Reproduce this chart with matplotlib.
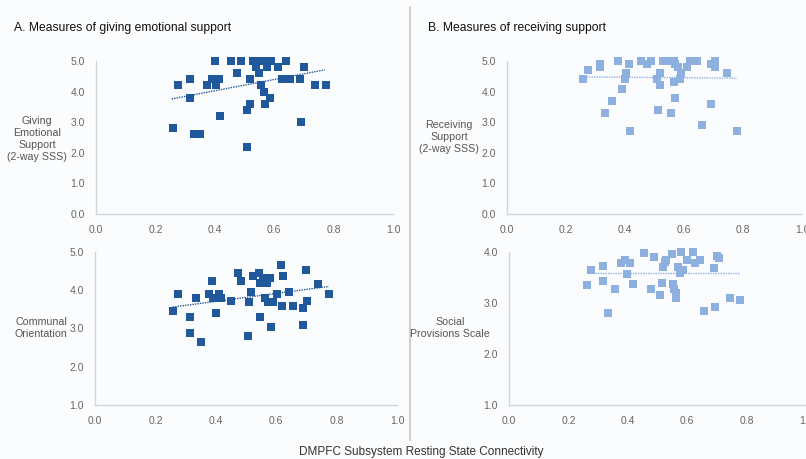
import matplotlib
matplotlib.use('Agg')
import matplotlib.pyplot as plt

plt.rcParams['font.family'] = ['Liberation Sans', 'DejaVu Sans']

# A. giving emotional support (2-way SSS)
give_x = [0.26, 0.277, 0.317, 0.317, 0.33, 0.35, 0.40, 0.375, 0.39, 0.415, 0.405, 0.418,
          0.455, 0.487, 0.476, 0.52, 0.52, 0.51, 0.51, 0.53, 0.55, 0.575, 0.59, 0.54,
          0.575, 0.614, 0.55, 0.555, 0.566, 0.585, 0.57, 0.64, 0.625, 0.653, 0.686,
          0.70, 0.69, 0.738, 0.773]
give_y = [2.8, 4.2, 4.4, 3.8, 2.6, 2.6, 5.0, 4.2, 4.4, 4.4, 4.2, 3.2,
          5.0, 5.0, 4.6, 4.4, 3.6, 3.4, 2.2, 5.0, 5.0, 5.0, 5.0, 4.8,
          4.8, 4.8, 4.6, 4.2, 4.0, 3.8, 3.6, 5.0, 4.4, 4.4, 4.4,
          4.8, 3.0, 4.2, 4.2]
give_trend_x = [0.255, 0.77]
give_trend_y = [3.76, 4.71]

# A. communal orientation
comm_x = [0.257, 0.276, 0.314, 0.314, 0.333, 0.35, 0.388, 0.377, 0.39, 0.41, 0.417, 0.40,
          0.45, 0.473, 0.484, 0.505, 0.518, 0.51, 0.522, 0.543, 0.547, 0.557, 0.568, 0.581,
          0.546, 0.564, 0.573, 0.588, 0.582, 0.602, 0.617, 0.624, 0.619, 0.643, 0.654,
          0.689, 0.689, 0.698, 0.703, 0.74, 0.775]
comm_y = [3.46, 3.9, 3.31, 2.87, 3.81, 2.66, 4.24, 3.9, 3.81, 3.9, 3.81, 3.4,
          3.73, 4.44, 4.25, 2.8, 3.96, 3.68, 4.38, 4.44, 3.31, 4.31, 4.18, 4.31,
          4.18, 3.81, 3.68, 3.68, 3.03, 3.9, 4.66, 4.38, 3.6, 3.96, 3.6,
          3.53, 3.09, 4.54, 3.73, 4.17, 3.9]
comm_trend_x = [0.257, 0.775]
comm_trend_y = [3.56, 4.10]

# B. receiving support (2-way SSS)
recv_x = [0.259, 0.276, 0.315, 0.315, 0.333, 0.356, 0.375, 0.389, 0.40, 0.405, 0.417, 0.415,
          0.453, 0.476, 0.487, 0.51, 0.52, 0.52, 0.512, 0.53, 0.55, 0.565, 0.555, 0.566,
          0.57, 0.57, 0.58, 0.585, 0.59, 0.61, 0.62, 0.645, 0.66, 0.69, 0.705, 0.705,
          0.69, 0.745, 0.778]
recv_y = [4.4, 4.7, 4.9, 4.8, 3.3, 3.7, 5.0, 4.1, 4.4, 4.6, 2.7, 4.9,
          5.0, 4.9, 5.0, 4.4, 4.6, 4.2, 3.4, 5.0, 5.0, 5.0, 3.3, 4.3,
          3.8, 4.9, 4.8, 4.4, 4.6, 4.8, 5.0, 5.0, 2.9, 4.9, 5.0, 4.8,
          3.6, 4.6, 2.7]
recv_trend_x = [0.27, 0.78]
recv_trend_y = [4.48, 4.44]

# B. social provisions scale
sps_x = [0.262, 0.275, 0.315, 0.318, 0.333, 0.358, 0.376, 0.39, 0.407, 0.398, 0.419,
         0.456, 0.477, 0.488, 0.51, 0.514, 0.52, 0.53, 0.525, 0.548, 0.553, 0.557, 0.563,
         0.563, 0.57, 0.576, 0.585, 0.578, 0.598, 0.618, 0.626, 0.643, 0.656, 0.69,
         0.694, 0.702, 0.708, 0.744, 0.778]
sps_y = [3.35, 3.65, 3.73, 3.44, 2.80, 3.27, 3.78, 3.84, 3.78, 3.56, 3.37,
         3.99, 3.27, 3.9, 3.15, 3.39, 3.71, 3.84, 3.8, 3.96, 3.37, 3.27, 3.2,
         3.1, 3.70, 3.58, 3.65, 4.0, 3.84, 4.0, 3.79, 3.84, 2.84, 3.69,
         2.93, 3.92, 3.88, 3.1, 3.06]
sps_trend_x = [0.29, 0.776]
sps_trend_y = [3.58, 3.58]

dark = '#20589b'
light = '#8eb0df'
axis_col = '#cfd6de'
tick_col = '#666666'

W, H = 806, 459
fig = plt.figure(figsize=(W / 100, H / 100), dpi=100)
fig.patch.set_facecolor('#fbfcfe')


def px_axes(left, right, top, bottom):
    return fig.add_axes([left / W, 1 - bottom / H, (right - left) / W, (bottom - top) / H])


def scatter_panel(ax, x, y, tx, ty, color, ylim, yticks, ylabel, label_x, label_y):
    ax.set_facecolor('none')
    ax.plot(x, y, 's', color=color, markersize=6.3, markeredgewidth=0, clip_on=False, zorder=3)
    # excel-style linear trendline
    ax.plot(tx, ty, linestyle=(0, (1, 0.8)), color=color, lw=1.0, zorder=4)
    ax.set_xlim(0, 1)
    ax.set_ylim(*ylim)
    ax.set_yticks(yticks)
    ax.set_yticklabels([f'{t:.1f}' for t in yticks])
    ax.set_xticks([0, 0.2, 0.4, 0.6, 0.8, 1.0])
    ax.set_xticklabels(['0.0', '0.2', '0.4', '0.6', '0.8', '1.0'])
    for s in ['top', 'right']:
        ax.spines[s].set_visible(False)
    for s in ['left', 'bottom']:
        ax.spines[s].set_color(axis_col)
        ax.spines[s].set_linewidth(1.0)
    ax.tick_params(length=0, labelsize=7.5, colors=tick_col, pad=8)
    fig.text(label_x / W, 1 - label_y / H, ylabel, ha='center', va='center',
             fontsize=7.7, color='#555555', linespacing=1.25)


ax1 = px_axes(96, 393, 61, 214)
scatter_panel(ax1, give_x, give_y, give_trend_x, give_trend_y, dark, (0, 5), [0, 1, 2, 3, 4, 5],
              'Giving\nEmotional\nSupport\n(2-way SSS)', 37, 139)

ax2 = px_axes(507, 802, 61, 214)
scatter_panel(ax2, recv_x, recv_y, recv_trend_x, recv_trend_y, light, (0, 5), [0, 1, 2, 3, 4, 5],
              'Receiving\nSupport\n(2-way SSS)', 449, 137)

ax3 = px_axes(95, 397, 252, 405)
scatter_panel(ax3, comm_x, comm_y, comm_trend_x, comm_trend_y, dark, (1, 5), [1, 2, 3, 4, 5],
              'Communal\nOrientation', 41, 328)

ax4 = px_axes(509, 806, 252, 405)
scatter_panel(ax4, sps_x, sps_y, sps_trend_x, sps_trend_y, light, (1, 4), [1, 2, 3, 4],
              'Social\nProvisions Scale', 450, 328)

fig.text(14 / W, 1 - 28 / H, 'A. Measures of giving emotional support',
         ha='left', va='center', fontsize=8.7, color='#111111')
fig.text(428 / W, 1 - 28 / H, 'B. Measures of receiving support',
         ha='left', va='center', fontsize=8.7, color='#111111')
fig.text(421 / W, 1 - 452 / H, 'DMPFC Subsystem Resting State Connectivity',
         ha='center', va='center', fontsize=8.5, color='#333333')

# divider between panels
fig.add_artist(plt.Line2D([410 / W, 410 / W], [1 - 7 / H, 1 - 440 / H],
                          transform=fig.transFigure, color='#c8c8c8', lw=1.2))

fig.savefig('out.png', dpi=100, facecolor=fig.get_facecolor())
